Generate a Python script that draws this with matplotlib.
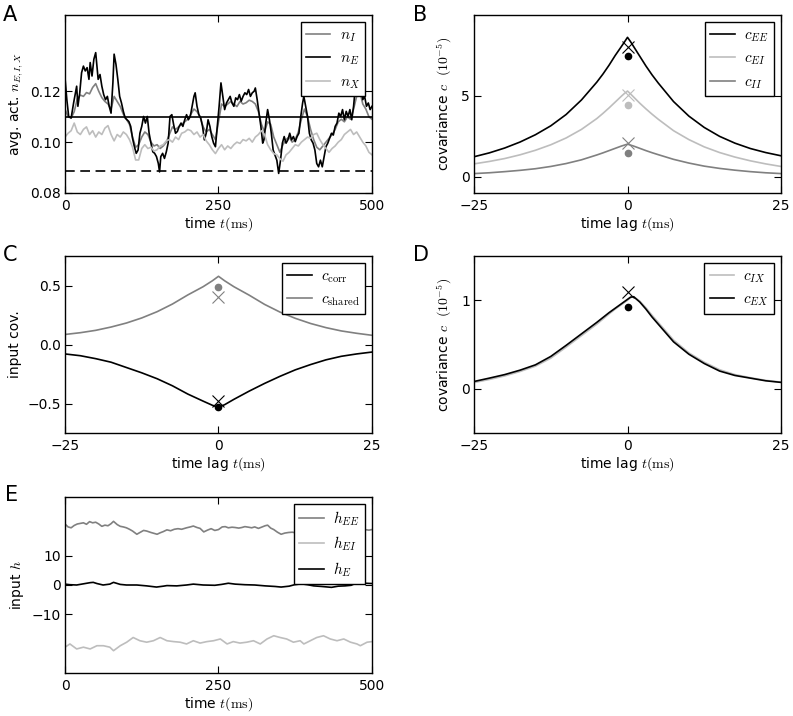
import matplotlib
matplotlib.use('Agg')
import matplotlib.pyplot as plt

plt.rcParams.update({
    'font.family': 'DejaVu Sans',
    'font.size': 10,
    'mathtext.fontset': 'cm',
    'axes.linewidth': 1.0,
    'xtick.direction': 'in', 'ytick.direction': 'in',
    'xtick.top': True, 'ytick.right': True,
    'xtick.major.size': 5, 'ytick.major.size': 5,
    'xtick.major.pad': 4, 'ytick.major.pad': 3,
    'legend.fancybox': False, 'legend.edgecolor': 'black', 'legend.framealpha': 1,
    'lines.scale_dashes': False,
})

GRAY = '#808080'
LGRAY = '#bdbdbd'

# ---------------- Panel A data ----------------
tE = [0, 3, 6, 10, 14, 19, 21, 24, 27, 30, 33, 36, 39, 41, 44, 47, 50, 52, 54, 57, 60, 63, 66, 69, 72, 75, 78, 80,
      83, 86, 89, 92, 95, 98, 101, 104, 107, 110, 113, 116, 119, 122, 125, 128, 131, 134, 137, 140, 143, 146, 149,
      152, 154, 156, 159, 162, 165, 168, 171, 174, 177, 180, 183, 186, 189, 192, 195, 198, 201, 204, 207, 210, 212,
      215, 218, 221, 224, 227, 230, 233, 236, 239, 242, 245, 248, 251, 254, 257, 260, 263, 266, 269, 272, 275, 278,
      281, 284, 287, 290, 293, 296, 299, 302, 305, 308, 310, 313, 316, 319, 322, 324, 327, 330, 333, 336, 339, 342,
      345, 348, 351, 354, 357, 360, 363, 366, 369, 372, 375, 378, 381, 384, 387, 389, 392, 395, 398, 401, 404, 407,
      410, 413, 416, 419, 422, 425, 428, 431, 434, 437, 440, 443, 446, 449, 452, 455, 458, 461, 464, 467, 470, 473,
      476, 479, 482, 485, 488, 491, 494, 497, 500]
nE = [0.1253, 0.1167, 0.1101, 0.1095, 0.1154, 0.1220, 0.1141, 0.1194, 0.1273, 0.1299, 0.1280, 0.1293, 0.1247,
      0.1313, 0.1260, 0.1326, 0.1352, 0.1299, 0.1247, 0.1266, 0.1220, 0.1187, 0.1167, 0.1180, 0.1141, 0.1114,
      0.1233, 0.1346, 0.1306, 0.1247, 0.1180, 0.1154, 0.1121, 0.1095, 0.1088, 0.1081, 0.1062, 0.1015, 0.0982,
      0.0956, 0.0969, 0.1035, 0.1062, 0.1101, 0.1075, 0.1101, 0.1035, 0.0996, 0.0962, 0.0956, 0.0943, 0.0916,
      0.0883, 0.0943, 0.0956, 0.0936, 0.0962, 0.0996, 0.1101, 0.1108, 0.1068, 0.1035, 0.1042, 0.1062, 0.1075,
      0.1062, 0.1088, 0.1108, 0.1088, 0.1101, 0.1141, 0.1180, 0.1194, 0.1141, 0.1108, 0.1095, 0.1062, 0.1009,
      0.1035, 0.1088, 0.1062, 0.1022, 0.0996, 0.0982, 0.1062, 0.1141, 0.1233, 0.1180, 0.1128, 0.1154, 0.1167,
      0.1180, 0.1154, 0.1141, 0.1174, 0.1167, 0.1187, 0.1161, 0.1180, 0.1194, 0.1187, 0.1207, 0.1180, 0.1194,
      0.1200, 0.1213, 0.1167, 0.1114, 0.1062, 0.0996, 0.1009, 0.1075, 0.1128, 0.1088, 0.1035, 0.0969, 0.0949,
      0.0929, 0.0877, 0.0929, 0.0996, 0.1022, 0.0996, 0.1009, 0.1035, 0.1009, 0.1022, 0.1002, 0.1022, 0.1035,
      0.1101, 0.1154, 0.1180, 0.1141, 0.1101, 0.1035, 0.1009, 0.0996, 0.0969, 0.0916, 0.0903, 0.0929, 0.0903,
      0.0943, 0.0982, 0.0996, 0.1015, 0.1035, 0.1028, 0.1062, 0.1075, 0.1114, 0.1101, 0.1128, 0.1088, 0.1121,
      0.1101, 0.1128, 0.1088, 0.1141, 0.1220, 0.1247, 0.1194, 0.1233, 0.1167, 0.1180, 0.1141, 0.1154, 0.1128,
      0.1141]

tIX = list(range(0, 501, 5))
nI = [0.1130, 0.1100, 0.1095, 0.1120, 0.1170, 0.1185, 0.1180, 0.1195, 0.1190, 0.1215, 0.1230, 0.1200, 0.1175,
      0.1160, 0.1150, 0.1130, 0.1180, 0.1160, 0.1140, 0.1110, 0.1090, 0.1070, 0.1020, 0.0980, 0.0990, 0.1020,
      0.1040, 0.1030, 0.1000, 0.0985, 0.0990, 0.0975, 0.0985, 0.1000, 0.1030, 0.1060, 0.1050, 0.1060, 0.1070,
      0.1080, 0.1090, 0.1110, 0.1130, 0.1120, 0.1100, 0.1060, 0.1040, 0.1050, 0.1030, 0.1010, 0.1080, 0.1150,
      0.1140, 0.1150, 0.1160, 0.1150, 0.1140, 0.1160, 0.1150, 0.1155, 0.1165, 0.1160, 0.1150, 0.1120, 0.1070,
      0.1040, 0.1080, 0.1070, 0.1020, 0.0990, 0.0960, 0.0990, 0.1010, 0.1020, 0.1000, 0.1010, 0.1040, 0.1090,
      0.1130, 0.1100, 0.1050, 0.1010, 0.0980, 0.0970, 0.0985, 0.1000, 0.1015, 0.1030, 0.1050, 0.1080, 0.1090,
      0.1080, 0.1100, 0.1090, 0.1130, 0.1180, 0.1200, 0.1150, 0.1130, 0.1100, 0.1090]
nX = [0.1020, 0.1035, 0.1045, 0.1075, 0.1040, 0.1030, 0.1050, 0.1060, 0.1030, 0.1045, 0.1020, 0.1040, 0.1030,
      0.1055, 0.1065, 0.1030, 0.1005, 0.1030, 0.1020, 0.1040, 0.1030, 0.1010, 0.0980, 0.0930, 0.0930, 0.0975,
      0.0990, 0.0975, 0.0980, 0.0965, 0.0970, 0.0985, 0.0990, 0.1005, 0.1010, 0.1000, 0.1020, 0.1010, 0.1035,
      0.1040, 0.1050, 0.1045, 0.1030, 0.1040, 0.1020, 0.1030, 0.1005, 0.0990, 0.0970, 0.0955, 0.0975, 0.0990,
      0.0970, 0.0985, 0.0975, 0.0990, 0.1000, 0.0995, 0.1010, 0.1005, 0.1015, 0.1000, 0.1020, 0.1030, 0.1045,
      0.1030, 0.0990, 0.0970, 0.0955, 0.0950, 0.0935, 0.0925, 0.0950, 0.0960, 0.0975, 0.0990, 0.0985, 0.1000,
      0.1010, 0.1020, 0.1015, 0.1030, 0.1035, 0.1010, 0.0990, 0.0975, 0.0960, 0.0975, 0.0985, 0.1000, 0.1010,
      0.1030, 0.1040, 0.1050, 0.1030, 0.1040, 0.1020, 0.1000, 0.0985, 0.0960, 0.0950]
nE_mean = 0.1098
nE_theory = 0.0888

# ---------------- Panel B data ----------------
lagB = [-25, -22.5, -20, -17.5, -15, -12.5, -10, -7.5, -5, -4, -3, -2, -1, -0.5, 0, 0.5, 1, 2, 3, 4, 5, 7.5, 10,
        12.5, 15, 17.5, 20, 22.5, 25]
cEE = [1.24, 1.48, 1.78, 2.15, 2.6, 3.15, 3.85, 4.75, 5.85, 6.35, 6.9, 7.5, 8.05, 8.33, 8.62, 8.35, 8.05, 7.45,
       6.85, 6.3, 5.8, 4.65, 3.75, 3.05, 2.5, 2.08, 1.75, 1.5, 1.3]
cEI = [0.80, 0.95, 1.13, 1.36, 1.64, 1.98, 2.4, 2.93, 3.6, 3.92, 4.26, 4.62, 4.98, 5.15, 5.3, 5.12, 4.93, 4.55,
       4.2, 3.87, 3.56, 2.85, 2.3, 1.85, 1.5, 1.22, 0.99, 0.8, 0.64]
cII = [0.2, 0.25, 0.32, 0.4, 0.5, 0.64, 0.82, 1.05, 1.35, 1.48, 1.62, 1.76, 1.9, 1.96, 2.02, 1.96, 1.9, 1.76, 1.62,
       1.49, 1.37, 1.08, 0.85, 0.66, 0.52, 0.41, 0.32, 0.25, 0.2]
cEE_cross, cEE_dot = 8.0, 7.45
cEI_cross, cEI_dot = 5.08, 4.44
cII_cross, cII_dot = 2.1, 1.45

# ---------------- Panel C data ----------------
lagC = [-25, -22.5, -20, -17.5, -15, -12.5, -10, -7.5, -5, -2.5, -1, 0, 1, 2.5, 5, 7.5, 10, 12.5, 15, 17.5, 20,
        22.5, 25]
c_shared = [0.085, 0.1, 0.12, 0.148, 0.182, 0.225, 0.278, 0.343, 0.42, 0.49, 0.54, 0.578, 0.54, 0.49, 0.418,
            0.34, 0.275, 0.222, 0.178, 0.143, 0.115, 0.095, 0.078]
c_corr = [-0.08, -0.095, -0.12, -0.15, -0.195, -0.24, -0.29, -0.35, -0.42, -0.48, -0.515, -0.532, -0.51, -0.465,
          -0.395, -0.33, -0.27, -0.215, -0.17, -0.13, -0.1, -0.08, -0.064]
shared_dot, shared_cross = 0.489, 0.401
corr_dot, corr_cross = -0.53, -0.48

# ---------------- Panel D data ----------------
lagD = [-25, -22.5, -20, -17.5, -15, -12.5, -10, -7.5, -5, -3, -2, -1, 0, 0.5, 1, 2, 3, 4, 5, 7.5, 10, 12.5, 15,
        17.5, 20, 22.5, 25]
cEX = [0.082, 0.12, 0.16, 0.21, 0.27, 0.365, 0.49, 0.62, 0.75, 0.86, 0.91, 0.96, 1.01, 1.035, 1.04, 0.98, 0.9,
       0.81, 0.73, 0.53, 0.39, 0.285, 0.2, 0.15, 0.12, 0.09, 0.072]
cIX = [0.07, 0.105, 0.145, 0.195, 0.255, 0.345, 0.47, 0.6, 0.73, 0.845, 0.9, 0.95, 1.0, 1.03, 1.04, 0.99, 0.915,
       0.83, 0.75, 0.55, 0.405, 0.3, 0.215, 0.16, 0.125, 0.095, 0.075]
cX_cross, cX_dot = 1.094, 0.925

# ---------------- Panel E data ----------------
tEE = [0, 5, 10, 15, 20, 25, 30, 35, 40, 45, 50, 55, 60, 65, 70, 75, 79, 85, 90, 95, 100, 105, 110, 117, 122, 128,
       133, 140, 145, 150, 155, 160, 166, 172, 178, 184, 190, 198, 204, 209, 215, 220, 226, 232, 238, 244, 250, 256,
       261, 266, 272, 277, 283, 288, 293, 299, 304, 309, 315, 320, 326, 330, 335, 340, 346, 352, 358, 364, 370, 376,
       382, 388, 395, 402, 410, 418, 425, 432, 440, 448, 456, 464, 472, 480, 488, 495, 500]
hEE = [20.8, 19.8, 19.5, 20.3, 20.8, 21.0, 21.2, 20.7, 21.6, 21.2, 21.4, 20.8, 20.0, 20.4, 20.2, 20.9, 21.7, 20.6,
       20.0, 19.8, 19.5, 19.0, 18.4, 17.3, 17.9, 18.6, 18.4, 17.9, 17.6, 17.3, 17.8, 18.2, 18.8, 18.5, 19.0, 19.2,
       19.0, 19.5, 19.8, 20.1, 19.6, 19.3, 18.1, 18.7, 19.2, 18.6, 18.9, 19.8, 19.9, 19.5, 19.7, 19.6, 19.4, 19.6,
       19.9, 19.7, 19.5, 19.8, 19.3, 19.7, 20.2, 20.4, 19.4, 18.9, 18.0, 17.3, 17.7, 17.9, 18.0, 17.8, 18.3, 18.0,
       18.4, 18.6, 18.2, 18.6, 18.3, 18.9, 18.5, 18.2, 18.7, 18.4, 18.9, 18.6, 18.9, 18.7, 18.9]
tEI = [0, 8, 19, 30, 41, 52, 62.5, 73, 79, 90, 100.5, 111, 122, 133, 144, 155, 166, 177, 187.5, 198, 209, 220, 231,
       242, 253, 264, 274, 285, 296, 307, 318, 329, 340, 350.5, 361, 372, 383, 389, 399.5, 410, 421, 432, 443, 454,
       465, 475.5, 481, 492, 500]
hEI = [-21.2, -20.1, -21.8, -21.2, -21.8, -20.7, -20.7, -21.2, -22.4, -20.7, -19.5, -17.9, -19.0, -19.5, -19.0,
       -17.9, -19.0, -19.3, -19.5, -20.1, -19.0, -19.8, -19.3, -19.0, -18.4, -20.1, -19.3, -19.8, -19.5, -19.0,
       -20.1, -18.4, -17.3, -17.9, -18.4, -19.5, -19.0, -20.1, -19.0, -17.9, -17.3, -18.4, -19.0, -18.4, -19.5,
       -20.1, -20.7, -19.5, -19.3]
tHE = [0, 8, 19, 30, 41, 46, 52, 62, 73, 79, 90, 100, 117, 133, 149, 160, 166, 182, 198, 209, 225, 244, 255, 266,
       277, 293, 309, 326, 342, 352, 365, 374, 385, 395, 405, 418, 434, 445, 456, 466, 478, 488, 500]
hE = [0.3, 0.1, 0.0, 0.4, 0.8, 0.9, 0.5, 0.0, 0.3, 0.9, 0.2, 0.0, 0.0, -0.3, -0.7, -0.4, -0.2, -0.3, 0.0, 0.3, 0.0,
      -0.1, 0.2, 0.6, 0.3, 0.1, 0.0, -0.3, -0.5, -0.7, -0.4, 0.1, 0.4, 0.1, -0.3, -0.5, -0.8, -0.4, -0.3, -0.1,
      1.0, 0.6, 0.5]

# ---------------- Figure ----------------
W, H = 793, 716
fig = plt.figure(figsize=(W / 100, H / 100), dpi=100)


def box(l, t, r, b):
    return [l / W, 1 - b / H, (r - l) / W, (b - t) / H]


axA = fig.add_axes(box(65, 15, 372, 193))
axB = fig.add_axes(box(474, 15, 781, 193))
axC = fig.add_axes(box(65, 256, 372, 433))
axD = fig.add_axes(box(474, 256, 781, 433))
axE = fig.add_axes(box(65, 497, 372, 673))

LW = 1.2
LEG = dict(loc='upper right', fontsize=11, handlelength=1.6, handletextpad=0.6, labelspacing=0.45,
           borderpad=0.35, borderaxespad=0.45)

# A
axA.plot(tIX, nI, color=GRAY, lw=LW, label=r'$n_I$')
axA.plot(tE, nE, color='black', lw=LW, label=r'$n_E$')
axA.plot(tIX, nX, color=LGRAY, lw=LW, label=r'$n_X$')
axA.axhline(nE_mean, color='black', lw=LW)
axA.axhline(nE_theory, color='black', lw=LW, dashes=(7, 4))
axA.set_xlim(0, 500)
axA.set_ylim(0.08, 0.15)
axA.set_xticks([0, 250, 500])
axA.set_yticks([0.08, 0.10, 0.12])
axA.set_yticklabels(['0.08', '0.10', '0.12'])
axA.set_xlabel(r'time $t(\mathrm{ms})$', labelpad=2)
axA.set_ylabel(r'avg. act. $n_{E,I,X}$', labelpad=4)
axA.legend(**LEG)

# B
axB.plot(lagB, cEE, color='black', lw=LW, label=r'$c_{EE}$')
axB.plot(lagB, cEI, color=LGRAY, lw=LW, label=r'$c_{EI}$')
axB.plot(lagB, cII, color=GRAY, lw=LW, label=r'$c_{II}$')
for cr, dt, col in [(cEE_cross, cEE_dot, 'black'), (cEI_cross, cEI_dot, LGRAY), (cII_cross, cII_dot, GRAY)]:
    axB.plot([0], [cr], marker='x', ms=9, mew=0.8, color=col, ls='none')
    axB.plot([0], [dt], marker='o', ms=4.5, color=col, mec=col, ls='none')
axB.set_xlim(-25, 25)
axB.set_ylim(-1, 10)
axB.set_xticks([-25, 0, 25])
axB.set_yticks([0, 5])
axB.set_xlabel(r'time lag $t(\mathrm{ms})$', labelpad=2)
axB.set_ylabel(r'covariance $c$  $(10^{-5})$', labelpad=5)
axB.legend(**LEG)

# C
axC.plot(lagC, c_corr, color='black', lw=LW, label=r'$c_{\mathrm{corr}}$')
axC.plot(lagC, c_shared, color=GRAY, lw=LW, label=r'$c_{\mathrm{shared}}$')
axC.plot([0], [shared_dot], marker='o', ms=4.5, color=GRAY, ls='none')
axC.plot([0], [shared_cross], marker='x', ms=9, mew=0.8, color=GRAY, ls='none')
axC.plot([0], [corr_cross], marker='x', ms=9, mew=0.8, color='black', ls='none')
axC.plot([0], [corr_dot], marker='o', ms=4.5, color='black', ls='none')
axC.set_xlim(-25, 25)
axC.set_ylim(-0.75, 0.75)
axC.set_xticks([-25, 0, 25])
axC.set_yticks([-0.5, 0.0, 0.5])
axC.set_xlabel(r'time lag $t(\mathrm{ms})$', labelpad=2)
axC.set_ylabel('input cov.', labelpad=4)
axC.legend(**LEG)

# D
axD.plot(lagD, cIX, color=LGRAY, lw=LW, label=r'$c_{IX}$')
axD.plot(lagD, cEX, color='black', lw=LW, label=r'$c_{EX}$')
axD.plot([0], [cX_cross], marker='x', ms=9, mew=0.8, color='black', ls='none')
axD.plot([0], [cX_dot], marker='o', ms=4.5, color='black', ls='none')
axD.set_xlim(-25, 25)
axD.set_ylim(-0.5, 1.5)
axD.set_xticks([-25, 0, 25])
axD.set_yticks([0, 1])
axD.set_xlabel(r'time lag $t(\mathrm{ms})$', labelpad=2)
axD.set_ylabel(r'covariance $c$  $(10^{-5})$', labelpad=5)
axD.legend(**LEG)

# E
axE.plot(tEE, hEE, color=GRAY, lw=LW, label=r'$h_{EE}$')
axE.plot(tEI, hEI, color=LGRAY, lw=LW, label=r'$h_{EI}$')
axE.plot(tHE, hE, color='black', lw=LW, label=r'$h_E$')
axE.set_xlim(0, 500)
axE.set_ylim(-30, 30)
axE.set_xticks([0, 250, 500])
axE.set_yticks([-10, 0, 10])
axE.set_xlabel(r'time $t(\mathrm{ms})$', labelpad=2)
axE.set_ylabel(r'input $h$', labelpad=4)
axE.legend(**LEG)

for ax, lab, x, y in [(axA, 'A', 3, 5), (axB, 'B', 413, 5), (axC, 'C', 3, 245), (axD, 'D', 413, 245),
                      (axE, 'E', 5, 485)]:
    fig.text(x / W, 1 - y / H, lab, fontsize=15, ha='left', va='top')

fig.savefig('out.png', dpi=100)
